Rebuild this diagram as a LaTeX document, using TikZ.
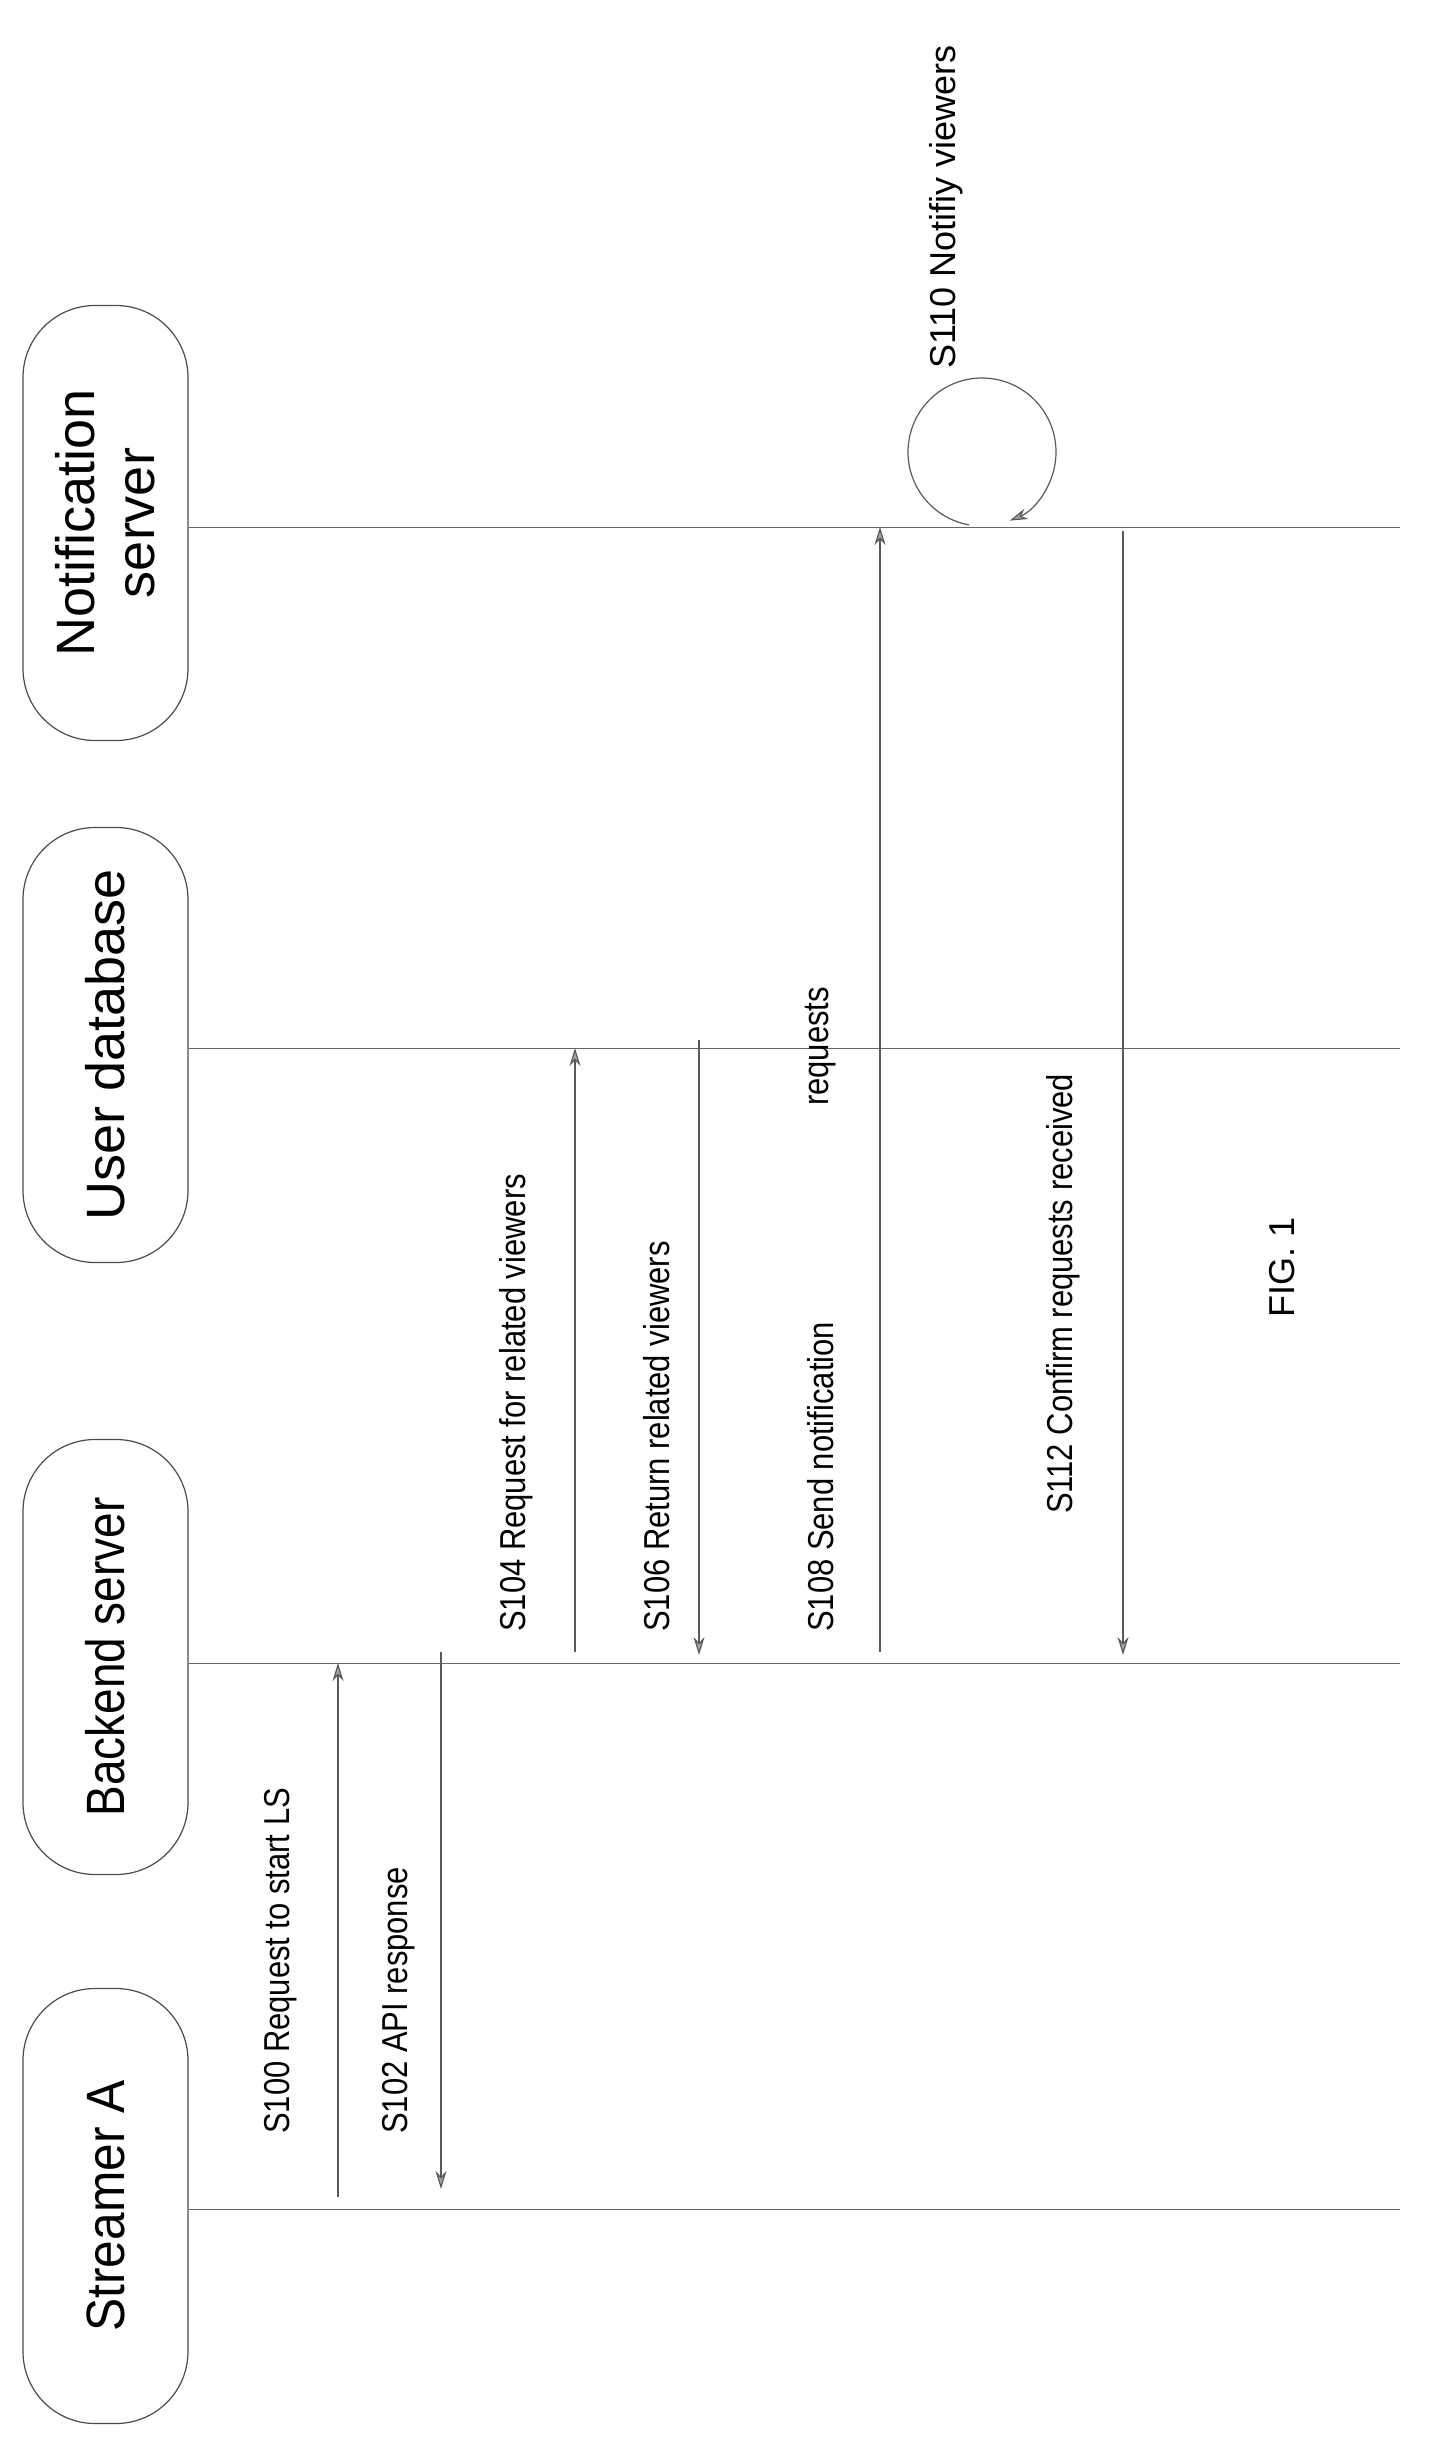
\documentclass[tikz,border=0pt]{standalone}
\usepackage{fontspec}
\setmainfont{Liberation Sans}
\usetikzlibrary{arrows.meta}
\begin{document}
\begin{tikzpicture}[x=1pt,y=-1pt,
  actor/.style={draw=black!70,line width=1.2pt,rounded corners=72pt,minimum width=165pt,minimum height=435pt,inner sep=0pt},
  atext/.style={rotate=90,font=\fontsize{54}{60}\selectfont,align=center},
  life/.style={draw=black!60,line width=0.9pt},
  msg/.style={draw=black!65,line width=1.2pt,-{Stealth[length=18pt,width=11pt,fill=black!35]}},
  lbl/.style={rotate=90,anchor=west,inner sep=0pt,font=\fontsize{36}{40}\selectfont}]
\useasboundingbox (0,0) rectangle (1454,2463);
% actors
\node[actor] (sa) at (105.5,2206) {};
\node[atext] at (sa) {\scalebox{0.92}[1]{Streamer A}};
\node[actor] (bs) at (105.5,1657) {};
\node[atext] at (bs) {\scalebox{0.85}[1]{Backend server}};
\node[actor] (ud) at (105.5,1045) {};
\node[atext] at (ud) {User database};
\node[actor] (ns) at (105.5,523) {};
\node[atext] at (ns) {Notification\\server};
% lifelines
\coordinate (saE) at (1400,2209);
\coordinate (bsE) at (1400,1663);
\coordinate (udE) at (1400,1048);
\coordinate (nsE) at (1400,527);
\draw[life] (sa.east |- saE) -- (saE);
\draw[life] (bs.east |- bsE) -- (bsE);
\draw[life] (ud.east |- udE) -- (udE);
\draw[life] (ns.east |- nsE) -- (nsE);
% messages
\coordinate (m0a) at (338,2197); \coordinate (m0b) at (338,1663);
\coordinate (m1a) at (441,1652); \coordinate (m1b) at (441,2189);
\coordinate (m2a) at (575,1652); \coordinate (m2b) at (575,1048);
\coordinate (m3a) at (699,1040); \coordinate (m3b) at (699,1655);
\coordinate (m4a) at (880,1652); \coordinate (m4b) at (880,527);
\coordinate (m6a) at (1123,531); \coordinate (m6b) at (1123,1655);
\draw[msg] (m0a) -- (m0b);
\draw[msg] (m1a) -- (m1b);
\draw[msg] (m2a) -- (m2b);
\draw[msg] (m3a) -- (m3b);
\draw[msg] (m4a) -- (m4b);
\draw[msg] (m6a) -- (m6b);
\coordinate (cc) at (982,452);
\draw[msg] (cc) ++(100:74) arc[start angle=100,end angle=428,radius=74];
% labels
\node[lbl] (l0) at (281,2134) {\scalebox{0.86}[1]{S100 Request to start LS}};
\node[lbl] (l1) at (399,2134) {\scalebox{0.86}[1]{S102 API response}};
\node[lbl] (l2) at (516,1632) {\scalebox{0.86}[1]{S104 Request for related viewers}};
\node[lbl] (l3) at (657,1632) {\scalebox{0.86}[1]{S106 Return related viewers}};
\node[lbl] (l4) at (821,1632) {\scalebox{0.86}[1]{S108 Send notification}};
\node[lbl] (l4b) at (821,1106) {\scalebox{0.86}[1]{requests}};
\node[lbl] (l5) at (946,369) {S110 Notifiy viewers};
\node[lbl] (l6) at (1063,1514) {\scalebox{0.86}[1]{S112 Confirm requests received}};
\node[lbl] (fig) at (1282,1318) {FIG. 1};
\end{tikzpicture}
\end{document}
